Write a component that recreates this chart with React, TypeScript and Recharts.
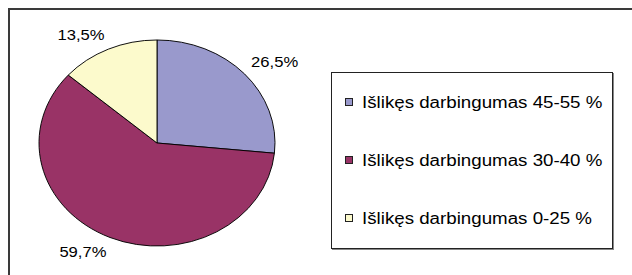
import { PieChart, Pie, Cell, Legend } from 'recharts';

const categories = [
  'Išlikęs darbingumas 45-55 %',
  'Išlikęs darbingumas 30-40 %',
  'Išlikęs darbingumas 0-25 %',
];
const shares = [26.5, 59.7, 13.5];
const colors = ['#9999cc', '#993366', '#fcfacc'];

const data = categories.map((name, i) => ({ name, value: shares[i] }));

const CX = 157;
const CY = 143;
const R = 118;
const SQUASH = 0.873; // the original pie is drawn as a stretched ellipse
const STRETCH = 1.146;
const FONT = "Arial, 'Liberation Sans', sans-serif";

const renderLabel = (props: any) => {
  const { cx, cy, midAngle, outerRadius, value } = props;
  const rad = (-midAngle * Math.PI) / 180;
  const cosA = Math.cos(rad);
  const sinA = Math.sin(rad);
  const ex = cx + outerRadius * cosA;
  const ey = cy + outerRadius * SQUASH * sinA;
  const d = 9;
  const w = 47;
  const h = 12;
  const x = ex + d * cosA + (cosA >= 0 ? 1 : -1) * (w / 2);
  const y = ey + d * sinA + (sinA >= 0 ? 1 : -1) * (h / 2);
  return (
    <text
      transform={`translate(${x},${y}) scale(${STRETCH},1)`}
      textAnchor="middle"
      dominantBaseline="central"
      fill="#000"
      fontSize={14.5}
      fontFamily={FONT}
    >
      {String(value).replace('.', ',')}%
    </text>
  );
};

const LegendBox = () => (
  <div
    style={{
      position: 'relative',
      width: 282,
      height: 177,
      border: '1px solid #222',
      boxShadow: '1px 1px 0 #888',
      boxSizing: 'border-box',
      background: '#fff',
    }}
  >
    {data.map((entry, i) => (
      <div
        key={entry.name}
        style={{
          position: 'absolute',
          left: 13,
          top: 20 + i * 58,
          height: 20,
          display: 'flex',
          alignItems: 'center',
          whiteSpace: 'nowrap',
        }}
      >
        <span
          style={{
            width: 6,
            height: 6,
            border: '1px solid #222',
            background: colors[i],
            marginRight: 9,
            marginTop: -2,
          }}
        />
        <span
          style={{
            display: 'inline-block',
            fontFamily: FONT,
            fontSize: 16,
            color: '#000',
            transform: 'scaleX(1.17)',
            transformOrigin: 'left center',
          }}
        >
          {entry.name}
        </span>
      </div>
    ))}
  </div>
);

export default function App() {
  return (
    <div
      style={{
        position: 'absolute',
        left: 0,
        top: 0,
        width: 632,
        height: 275,
        overflow: 'hidden',
        background: '#fff',
      }}
    >
      <style>{`.recharts-sector { transform-origin: ${CX}px ${CY}px; transform: scaleY(${SQUASH}); }`}</style>
      <div
        style={{
          position: 'absolute',
          left: 8,
          top: 8,
          width: 700,
          height: 400,
          borderTop: '2px solid #3a3a3a',
          borderLeft: '2px solid #3a3a3a',
        }}
      />
      <div style={{ position: 'absolute', left: 0, top: 0 }}>
        <PieChart width={632} height={275} margin={{ top: 0, right: 0, bottom: 0, left: 0 }}>
          <Pie
            data={data}
            dataKey="value"
            nameKey="name"
            cx={CX}
            cy={CY}
            outerRadius={R}
            startAngle={90}
            endAngle={-270}
            stroke="#000"
            strokeWidth={1}
            label={renderLabel}
            labelLine={false}
            isAnimationActive={false}
          >
            {data.map((entry, i) => (
              <Cell key={entry.name} fill={colors[i]} />
            ))}
          </Pie>
          <Legend
            content={<LegendBox />}
            wrapperStyle={{ position: 'absolute', left: 331, top: 72, width: 282, height: 177 }}
          />
        </PieChart>
      </div>
    </div>
  );
}
